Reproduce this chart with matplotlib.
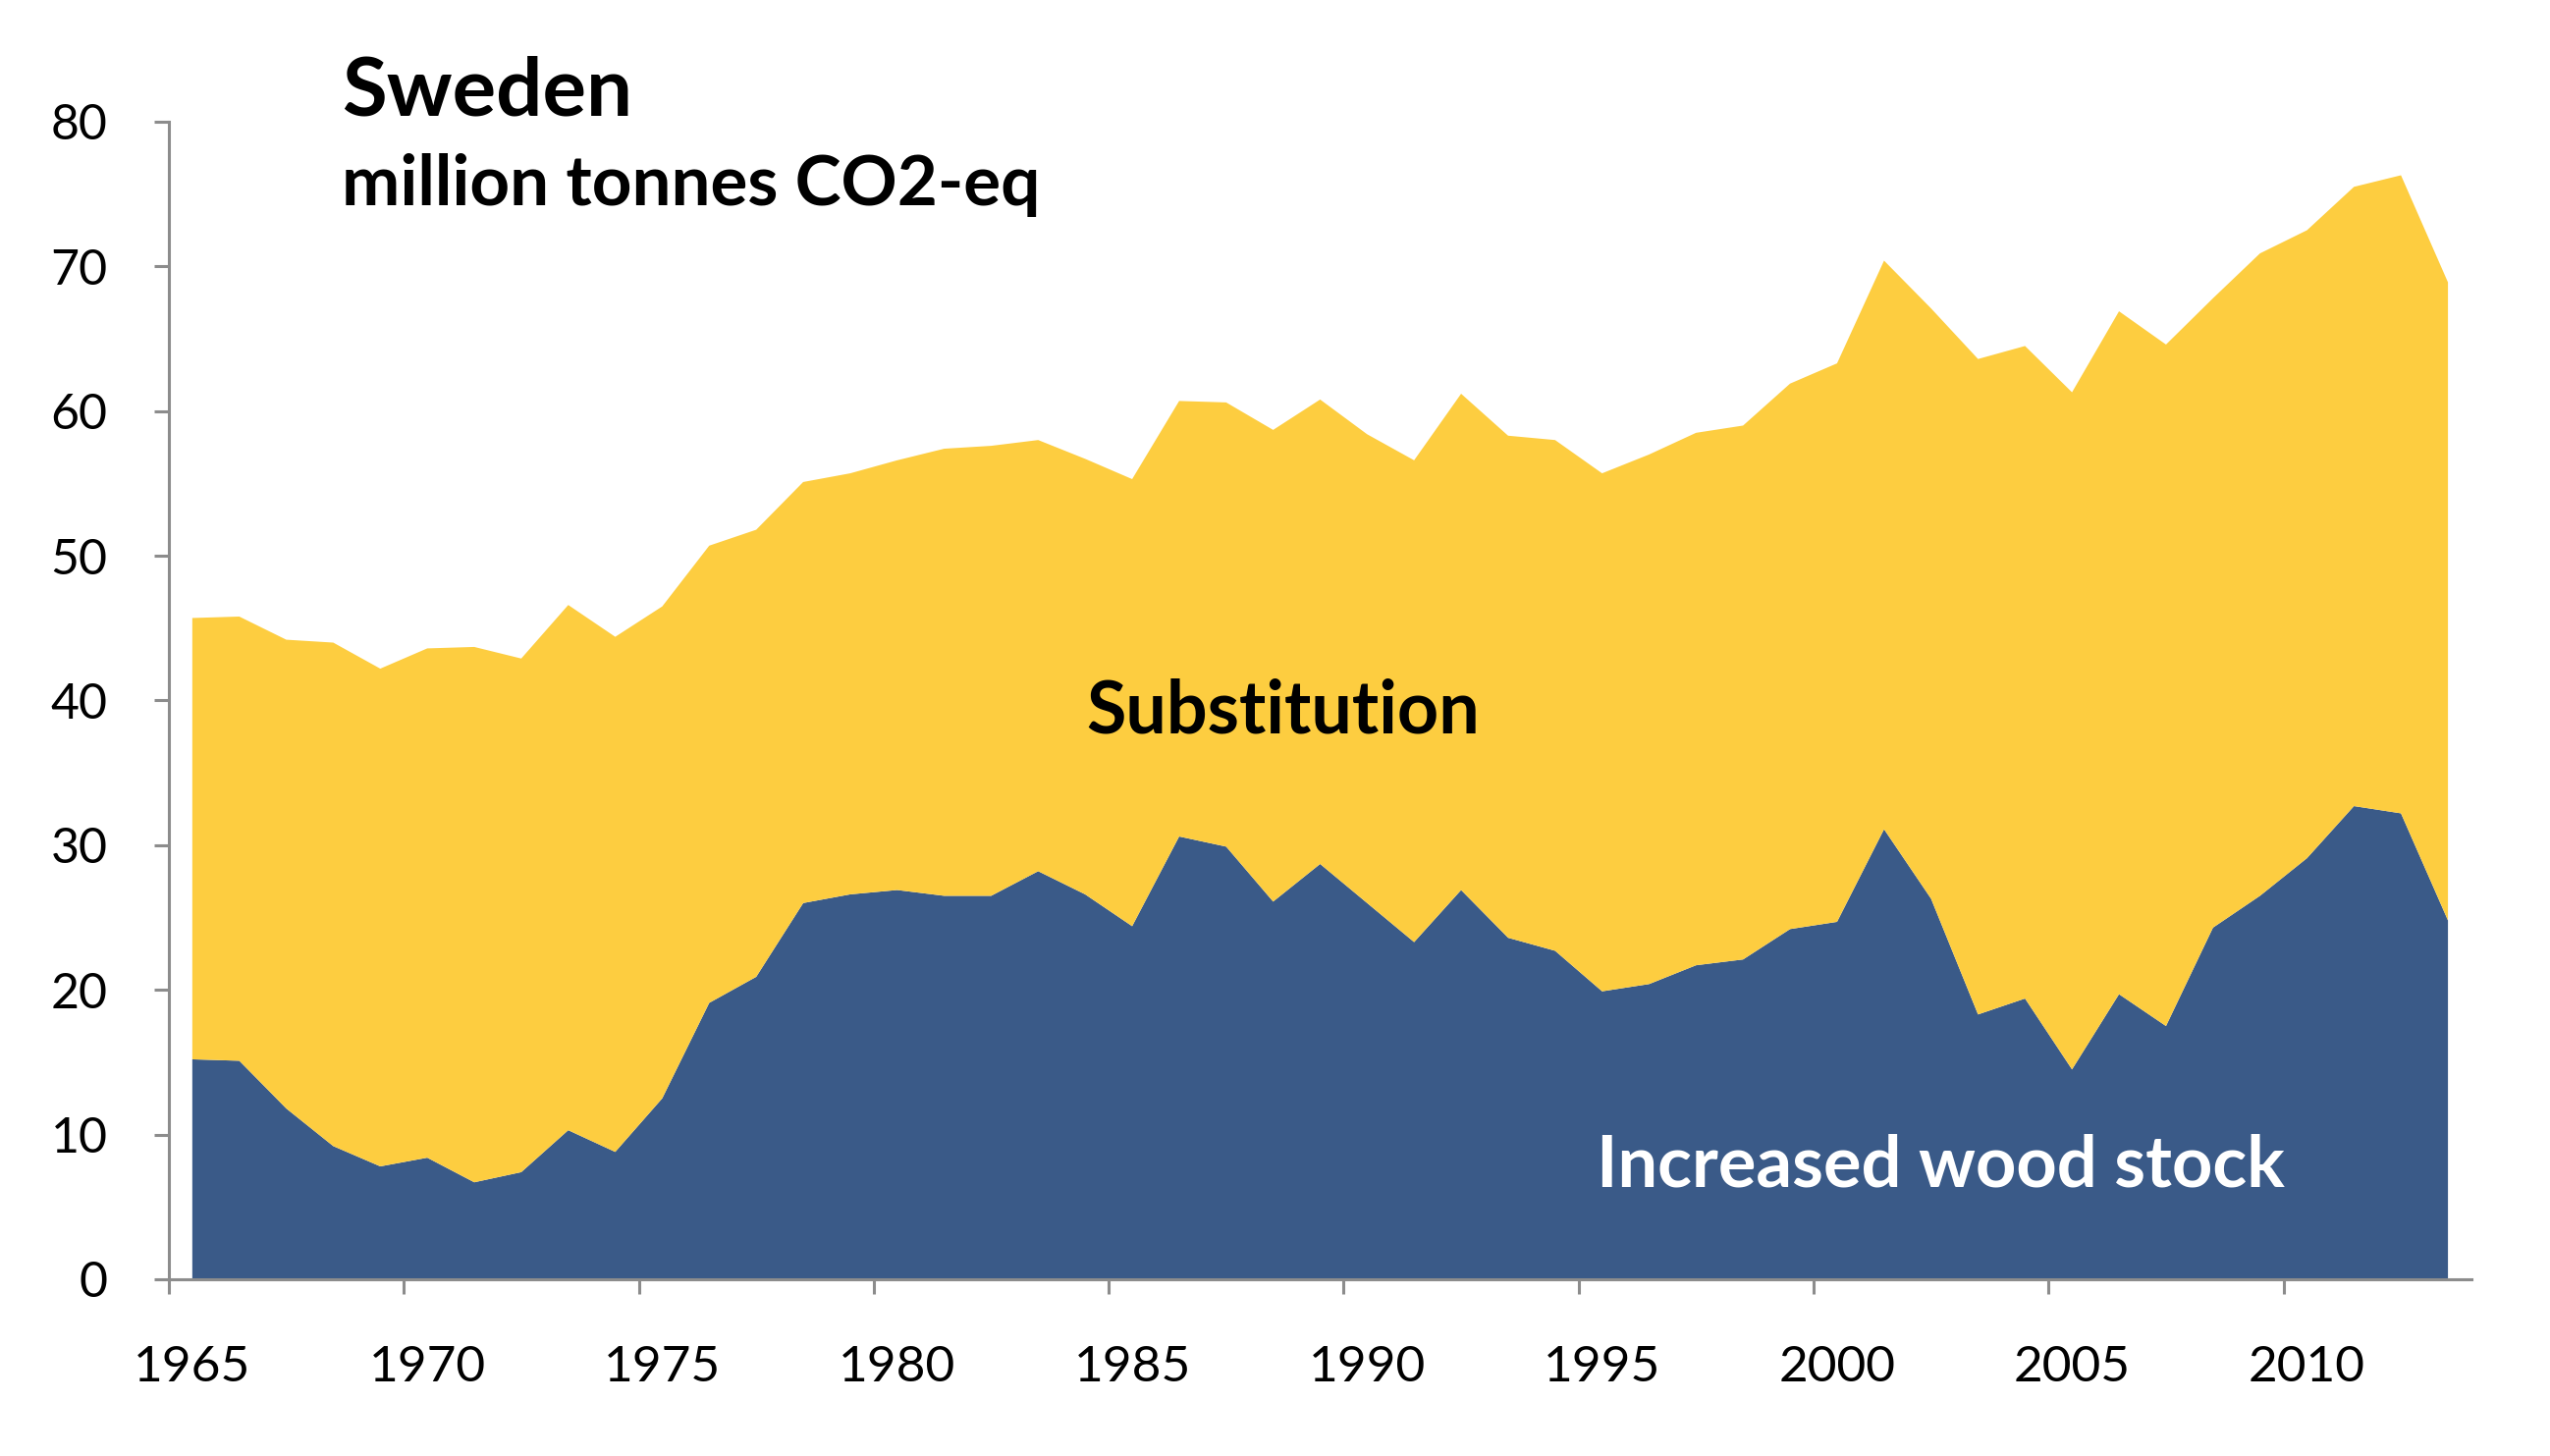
import numpy as np
import matplotlib.pyplot as plt
from matplotlib.ticker import FixedLocator

years = list(range(1965, 2014))

# million tonnes CO2-eq
wood_stock = [15.2, 15.1, 11.8, 9.2, 7.8, 8.4, 6.7, 7.4, 10.3, 8.8,
              12.5, 19.1, 20.9, 26.0, 26.6, 26.9, 26.5, 26.5, 28.2, 26.6,
              24.4, 30.6, 29.9, 26.1, 28.7, 26.0, 23.3, 26.9, 23.6, 22.7,
              19.9, 20.4, 21.7, 22.1, 24.2, 24.7, 31.1, 26.3, 18.3, 19.4,
              14.5, 19.7, 17.5, 24.3, 26.5, 29.1, 32.7, 32.2, 24.8]
total = [45.7, 45.8, 44.2, 44.0, 42.2, 43.6, 43.7, 42.9, 46.6, 44.4,
         46.5, 50.7, 51.8, 55.1, 55.7, 56.6, 57.4, 57.6, 58.0, 56.7,
         55.3, 60.7, 60.6, 58.7, 60.8, 58.4, 56.6, 61.2, 58.3, 58.0,
         55.7, 57.0, 58.5, 59.0, 61.9, 63.3, 70.4, 67.1, 63.6, 64.5,
         61.3, 66.9, 64.6, 67.8, 70.9, 72.5, 75.5, 76.3, 68.9]
substitution = [t - w for t, w in zip(total, wood_stock)]

label_years = [1965, 1970, 1975, 1980, 1985, 1990, 1995, 2000, 2005, 2010]
y_ticks = [0, 10, 20, 30, 40, 50, 60, 70, 80]

blue = "#3a5a88"
yellow = "#fdcd40"
grey = "#8c8c8c"

plt.rcParams['font.family'] = ['Lato', 'DejaVu Sans']

fig = plt.figure(figsize=(25.97, 14.83), dpi=100)
ax = fig.add_axes([0.0662, 0.1214, 0.9030, 0.7950])

ax.stackplot(years, wood_stock, substitution, colors=[blue, yellow], linewidth=0)

ax.set_xlim(1964.5, 2013.5)
ax.set_ylim(0, 80)

for s in ["top", "right"]:
    ax.spines[s].set_visible(False)
for s in ["left", "bottom"]:
    ax.spines[s].set_color(grey)
    ax.spines[s].set_linewidth(2.2)

ax.set_yticks(y_ticks)
ax.tick_params(axis="y", length=11, width=2.2, color=grey, pad=34, labelsize=36)

# labels sit on the data years, tick marks on category boundaries
ax.set_xticks(label_years)
ax.set_xticklabels([str(y) for y in label_years])
ax.tick_params(axis="x", which="major", length=0, pad=48, labelsize=37)
ax.xaxis.set_minor_locator(FixedLocator([y - 0.5 for y in label_years]))
ax.tick_params(axis="x", which="minor", length=11, width=2.2, color=grey)

fig.text(0.134, 0.962, "Sweden", fontsize=60, fontweight="bold", va="top", ha="left")
fig.text(0.134, 0.895, "million tonnes CO2-eq", fontsize=51, fontweight="bold", va="top", ha="left")

ax.text(1988.2, 39.2, "Substitution", fontsize=53, fontweight="bold", color="black",
        ha="center", va="center")
ax.text(2002.2, 7.8, "Increased wood stock", fontsize=52, fontweight="bold", color="white",
        ha="center", va="center")

fig.savefig("out.png", dpi=100)
